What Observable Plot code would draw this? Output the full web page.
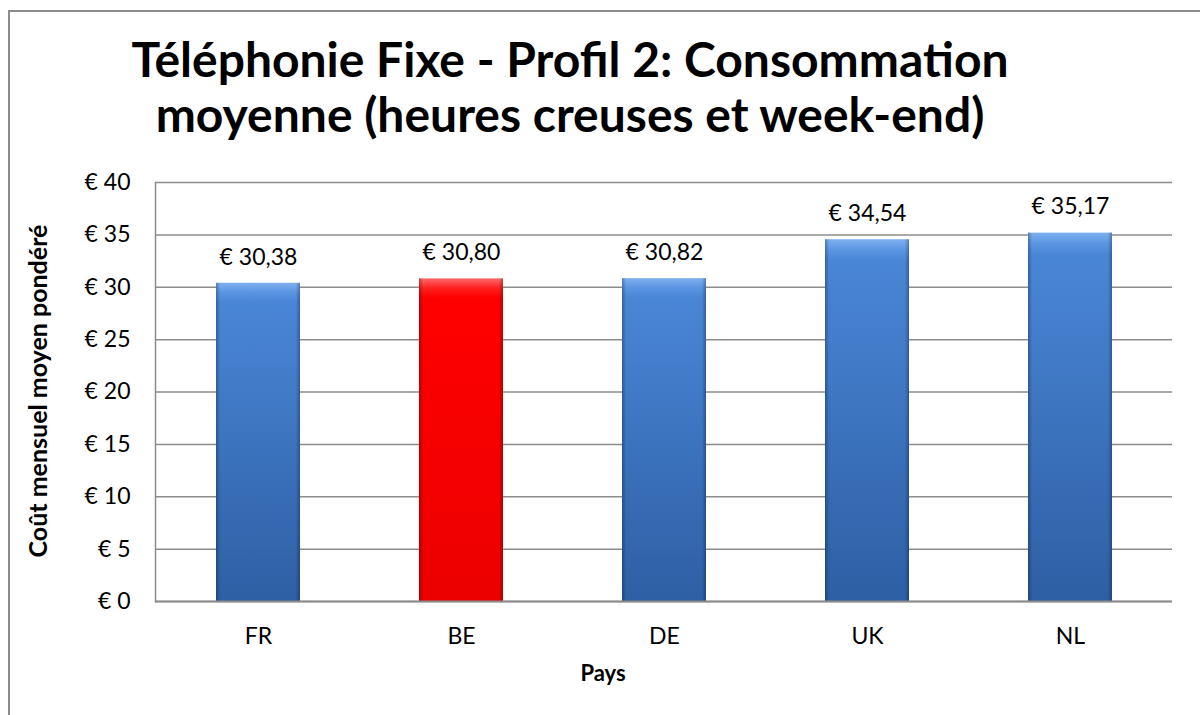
<!DOCTYPE html>
<html><head><meta charset="utf-8">
<script src="https://cdn.jsdelivr.net/npm/d3@7"></script>
<script src="https://cdn.jsdelivr.net/npm/@observablehq/plot@0.6"></script>
<style>
body{margin:0;width:1200px;height:715px;overflow:hidden;background:#fff;font-family:Lato,sans-serif;position:relative}
#frame{position:absolute;left:8px;top:10px;width:1400px;height:900px;border:2px solid #8c8c8c;box-sizing:border-box}
#title{position:absolute;left:0;top:31px;width:1140px;text-align:center;font-weight:bold;font-size:48px;line-height:55px;color:#000;white-space:nowrap}
#chart{position:absolute;left:0;top:0}
#ytitle{position:absolute;left:-163px;top:377px;width:400px;height:28px;line-height:28px;text-align:center;font-weight:bold;font-size:25px;transform:rotate(-90deg);color:#000;white-space:nowrap}
#xtitle{position:absolute;left:503px;top:662px;width:200px;text-align:center;font-weight:bold;font-size:22px;line-height:22px;color:#000}
</style></head><body>
<div id="frame"></div>
<div id="title">Téléphonie Fixe - Profil 2: Consommation<br>moyenne (heures creuses et week-end)</div>
<div id="chart"></div>
<div id="ytitle">Coût mensuel moyen pondéré</div>
<div id="xtitle">Pays</div>
<script>
const countries = ["FR", "BE", "DE", "UK", "NL"];
const values = [30.38, 30.80, 30.82, 34.54, 35.17];
const highlight = "BE";
const yTicks = [0, 5, 10, 15, 20, 25, 30, 35, 40];

const data = countries.map((c, i) => ({pays: c, value: values[i]}));
const fmt = v => "€ " + v.toFixed(2).replace(".", ",");

const plot = Plot.plot({
  width: 1200, height: 715,
  marginLeft: 155, marginRight: 28, marginTop: 182, marginBottom: 114,
  style: {fontFamily: "Lato, sans-serif", fontSize: "23px", color: "#000", background: "transparent"},
  x: {domain: countries, paddingInner: 0.587, paddingOuter: 0.2935, label: null, tickSize: 0, tickPadding: 26},
  y: {domain: [0, 40], ticks: yTicks, tickFormat: d => "€ " + d, label: null, tickSize: 0, tickPadding: 25},
  marks: [
    Plot.gridY(yTicks, {stroke: "#8c8c8c", strokeOpacity: 1, strokeWidth: 1.5}),
    Plot.frame({anchor: "left", stroke: "#8c8c8c", strokeWidth: 1.5}),
    Plot.barY(data.filter(d => d.pays !== highlight), {x: "pays", y: "value", fill: "url(#gBlue)"}),
    Plot.barY(data.filter(d => d.pays === highlight), {x: "pays", y: "value", fill: "url(#gRed)"}),
    Plot.barY(data, {x: "pays", y: "value", fill: "url(#gSide)"}),
    Plot.ruleY([0], {stroke: "#8c8c8c", strokeWidth: 2}),
    Plot.text(data, {x: "pays", y: "value", text: d => fmt(d.value), dy: -26, fontSize: 23, fill: "#000"})
  ]
});

const svg = d3.select(plot);
const defs = svg.insert("defs", ":first-child");
function grad(id, vertical, stops) {
  const g = defs.append("linearGradient").attr("id", id)
    .attr("x1", 0).attr("y1", 0).attr("x2", vertical ? 0 : 1).attr("y2", vertical ? 1 : 0);
  stops.forEach(([o, c, op]) => g.append("stop").attr("offset", o).attr("stop-color", c).attr("stop-opacity", op == null ? 1 : op));
}
grad("gBlue", true, [["0", "#7eb0ef"], ["0.03", "#5a95e2"], ["0.06", "#4a86d6"], ["1", "#2d5fa4"]]);
grad("gRed", true, [["0", "#ff6a6a"], ["0.03", "#ff2020"], ["0.06", "#ff0000"], ["1", "#ec0000"]]);
grad("gSide", false, [["0", "#000", 0.28], ["0.05", "#000", 0], ["0.95", "#000", 0], ["1", "#000", 0.28]]);

document.getElementById("chart").appendChild(plot);
</script>
</body></html>
